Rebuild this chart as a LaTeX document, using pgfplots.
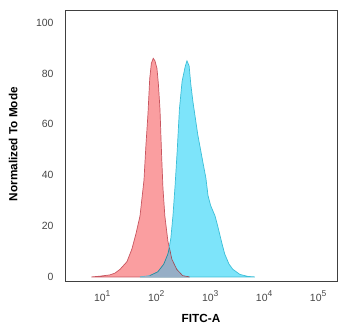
\documentclass[border=0pt]{standalone}
\usepackage{pgfplots}
\pgfplotsset{compat=1.18}
\usepackage{fontspec}
\setmainfont{Liberation Sans}
\definecolor{redfill}{RGB}{250,158,160}
\definecolor{rededge}{RGB}{200,85,95}
\definecolor{bluefill}{RGB}{125,228,250}
\definecolor{blueedge}{RGB}{60,190,215}
\definecolor{overlap}{RGB}{150,174,198}
\definecolor{ticktext}{RGB}{70,70,70}
\newcommand\sups[1]{\raisebox{0.45em}{\fontsize{8.5}{9}\selectfont #1}}
\begin{document}
\begin{tikzpicture}
\useasboundingbox (-65bp,-46bp) rectangle (285bp,281bp);
\begin{axis}[
  at={(0,0)}, anchor=south west,
  scale only axis, width=272bp, height=271bp,
  xmin=0.31, xmax=5.35, ymin=-1.6, ymax=105,
  axis line style={draw=black!75, line width=0.8pt},
  xtick={1,2,3,4,5},
  xticklabels={10\sups{1},10\sups{2},10\sups{3},10\sups{4},10\sups{5}},
  ytick={0,20,40,60,80,100},
  major tick length=0pt,
  /pgf/number format/assume math mode=true,
  tick label style={font=\fontsize{10.5}{12}\selectfont, text=ticktext},
  yticklabel style={xshift=-8bp},
  xticklabel style={yshift=-6bp},
  xlabel={FITC-A},
  ylabel={Normalized To Mode},
  label style={font=\bfseries\fontsize{11.8}{13}\selectfont},
  xlabel style={at={(axis description cs:0.5,-0.137)}, anchor=center},
  ylabel style={at={(axis description cs:-0.191,0.505)}, anchor=center, rotate=0},
]
\addplot[fill=redfill, draw=rededge, line width=0.7pt] coordinates {
(0.80,0) (0.958,0.3) (1.143,0.8) (1.236,1.5) (1.33,3) (1.458,6) (1.55,11)
(1.625,17) (1.70,24) (1.773,38) (1.81,52) (1.847,64) (1.88,78) (1.91,84)
(1.945,86) (1.977,85) (2.014,82) (2.04,76) (2.07,66) (2.10,48) (2.125,35)
(2.16,24) (2.217,14) (2.29,7) (2.38,3) (2.49,0.5) (2.62,0)
} \closedcycle;
\addplot[fill=bluefill, draw=blueedge, line width=0.7pt] coordinates {
(1.70,0) (1.88,0.5) (2.03,2) (2.14,5) (2.217,9) (2.27,15) (2.31,24)
(2.35,36) (2.39,50) (2.43,66) (2.48,77) (2.54,83) (2.57,85) (2.61,83)
(2.64,76) (2.68,69) (2.77,56) (2.866,45) (2.92,39) (2.96,32) (3.01,28)
(3.09,24) (3.14,20) (3.22,13) (3.27,9) (3.35,5) (3.42,3) (3.55,1)
(3.70,0.2) (3.83,0)
} \closedcycle;
% overlap region of the two histograms
\addplot[fill=overlap, draw=none] coordinates {
(1.70,0) (1.88,0.5) (2.03,2) (2.14,5) (2.217,9) (2.245,11.5) (2.29,7)
(2.38,3) (2.49,0.5) (2.62,0)
} \closedcycle;
\addplot[draw=rededge!80!black, line width=0.6pt] coordinates {
(2.245,11.5) (2.29,7) (2.38,3) (2.49,0.5) (2.62,0)
};
\addplot[draw=blueedge!70!black, line width=0.6pt] coordinates {
(1.88,0.5) (2.03,2) (2.14,5) (2.217,9) (2.245,11.5)
};
\end{axis}
\end{tikzpicture}
\end{document}
